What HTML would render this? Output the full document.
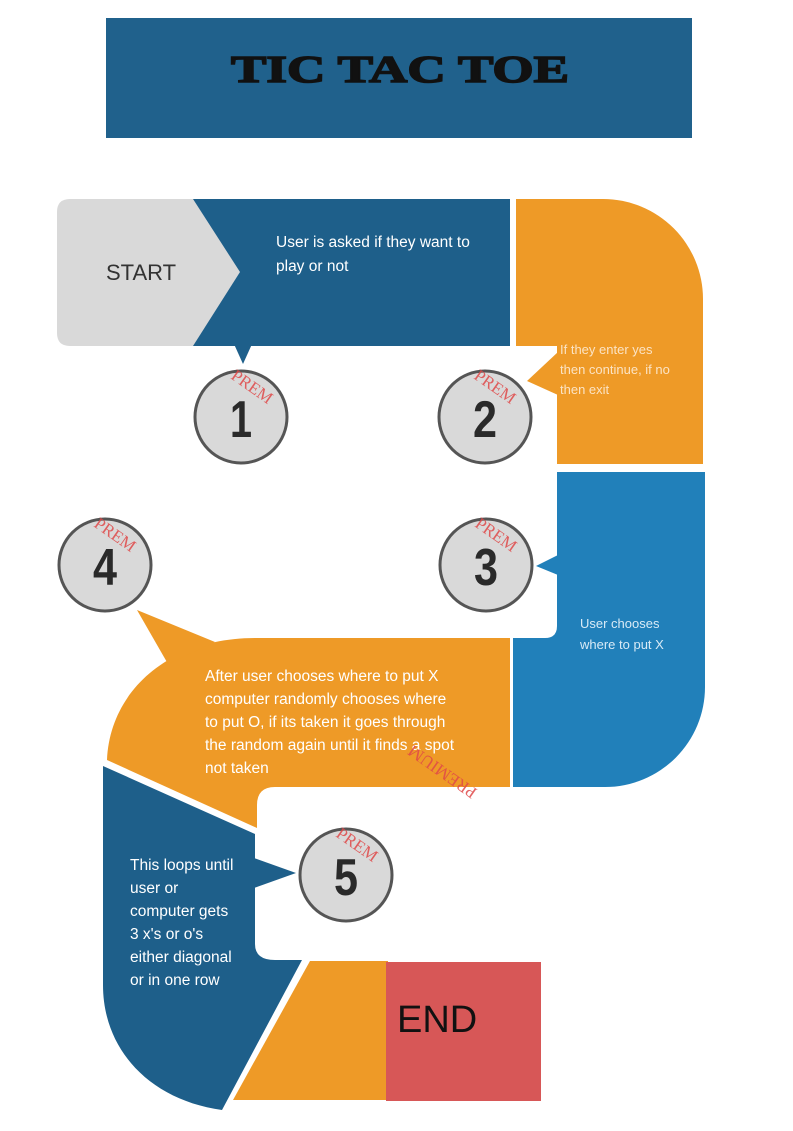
<!DOCTYPE html>
<html><head><meta charset="utf-8"><style>
html,body{margin:0;padding:0;background:#fff;}
svg{display:block;font-family:"Liberation Sans",sans-serif;}
</style></head><body>
<svg width="793" height="1131" viewBox="0 0 793 1131">
<rect x="106" y="18" width="586" height="120" fill="#20618c"/>
<text x="400" y="82" text-anchor="middle" font-family="Liberation Serif,serif" font-weight="900" font-size="38" textLength="338" lengthAdjust="spacingAndGlyphs" fill="#111" stroke="#111" stroke-width="1.5">TIC TAC TOE</text>

<!-- step 1 -->
<rect x="190" y="199" width="320" height="147" fill="#1e5f8a"/>
<polygon points="234,344 243,364 252,344" fill="#1e5f8a"/>
<path d="M70,199 H193 L240,272 L193,346 H70 Q57,346 57,333 V212 Q57,199 70,199 Z" fill="#d9d9d9"/>
<text x="106" y="280" font-size="22" fill="#333">START</text>
<text x="276" y="247" font-size="15.5" fill="#fff"><tspan x="276">User is asked if they want to</tspan><tspan x="276" dy="24">play or not</tspan></text>

<!-- step 2 -->
<path d="M516,199 H603 A100,100 0 0 1 703,299 V464 H557 V346 H516 Z" fill="#ee9a27"/>
<polygon points="527,381 558,352 558,395" fill="#ee9a27"/>
<text font-size="13" fill="#fbe3c4"><tspan x="560" y="354">If they enter yes</tspan><tspan x="560" y="374">then continue, if no</tspan><tspan x="560" y="394">then exit</tspan></text>

<!-- step 3 -->
<path d="M557,472 H705 V687 A100,100 0 0 1 605,787 H513 V638 H545 Q557,638 557,626 Z" fill="#2180ba"/>
<polygon points="536,566 558,555 558,575" fill="#2180ba"/>
<text font-size="13" fill="#d8eaf6"><tspan x="580" y="628">User chooses</tspan><tspan x="580" y="649">where to put X</tspan></text>

<!-- step 4 -->
<path d="M255,638 H510 V787 H275 Q257,787 257,805 V828 L107,760 C110,690 170,638 255,638 Z" fill="#ee9a27"/>
<polygon points="137,610 168,664 215,642" fill="#ee9a27"/>
<text font-size="15.5" fill="#fff"><tspan x="205" y="681">After user chooses where to put X</tspan><tspan x="205" y="704">computer randomly chooses where</tspan><tspan x="205" y="727">to put O, if its taken it goes through</tspan><tspan x="205" y="750">the random again until it finds a spot</tspan><tspan x="205" y="773">not taken</tspan></text>

<!-- step 5 -->
<path d="M103,766 L255,834 V944 Q255,960 275,960 H302 L222,1110 C150,1100 103,1050 103,985 Z" fill="#1e5f8a"/>
<polygon points="254,858 296,873 254,888" fill="#1e5f8a"/>
<text font-size="15.5" fill="#fff"><tspan x="130" y="870">This loops until</tspan><tspan x="130" y="893">user or</tspan><tspan x="130" y="916">computer gets</tspan><tspan x="130" y="939">3 x's or o's</tspan><tspan x="130" y="962">either diagonal</tspan><tspan x="130" y="985">or in one row</tspan></text>

<!-- end -->
<polygon points="310,961 388,961 388,1100 233,1100" fill="#ee9a27"/>
<rect x="386" y="962" width="155" height="139" fill="#d75757"/>
<text x="397" y="1032" font-size="38" fill="#111">END</text>

<!-- circles -->
<g stroke="#555" stroke-width="3" fill="#d9d9d9">
<circle cx="241" cy="417" r="46"/>
<circle cx="485" cy="417" r="46"/>
<circle cx="486" cy="565" r="46"/>
<circle cx="105" cy="565" r="46"/>
<circle cx="346" cy="875" r="46"/>
</g>
<g font-size="52" font-weight="bold" fill="#2a2a2a" text-anchor="middle">
<text x="241" y="437" textLength="22" lengthAdjust="spacingAndGlyphs">1</text>
<text x="485" y="437" textLength="24" lengthAdjust="spacingAndGlyphs">2</text>
<text x="486" y="585" textLength="24" lengthAdjust="spacingAndGlyphs">3</text>
<text x="105" y="585" textLength="24" lengthAdjust="spacingAndGlyphs">4</text>
<text x="346" y="895" textLength="24" lengthAdjust="spacingAndGlyphs">5</text>
</g>
<g font-family="Liberation Serif,serif" font-size="17" fill="#e04848" opacity="0.85">
<text transform="translate(230,378) rotate(35)">PREM</text>
<text transform="translate(473,378) rotate(35)">PREM</text>
<text transform="translate(474,526) rotate(35)">PREM</text>
<text transform="translate(93,526) rotate(35)">PREM</text>
<text transform="translate(335,836) rotate(35)">PREM</text>
<text transform="translate(478,790) rotate(-145)">PREMIUM</text>
</g>
</svg>
</body></html>
